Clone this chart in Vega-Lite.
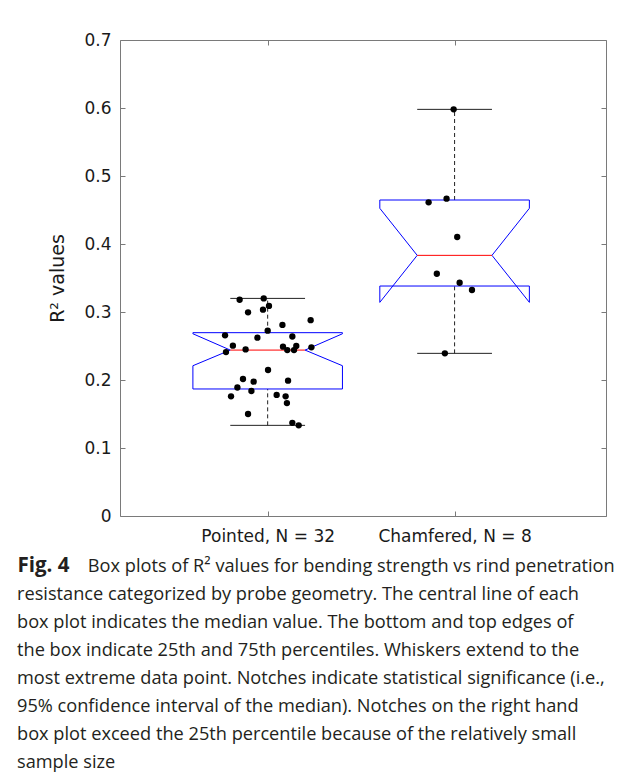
{
  "$schema": "https://vega.github.io/schema/vega-lite/v6.json",
  "width": 486,
  "height": 476,
  "autosize": {"type": "none"},
  "padding": {"left": 120, "top": 40, "right": 23, "bottom": 256},
  "background": "white",
  "config": {
    "view": {"stroke": "#7a7a7a", "strokeWidth": 1},
    "axis": {"grid": false, "domain": false, "tickColor": "#7a7a7a", "tickSize": -5, "labelColor": "#1a1a1a", "labelFont": "DejaVu Sans", "labelFontSize": 17, "titleColor": "#1a1a1a", "titleFont": "DejaVu Sans", "titleFontSize": 19, "titleFontWeight": "normal"}
  },
  "datasets": {
    "pts": [
      {"group": "Pointed", "x": 0.850, "r2": 0.318},
      {"group": "Pointed", "x": 0.979, "r2": 0.320},
      {"group": "Pointed", "x": 1.007, "r2": 0.309},
      {"group": "Pointed", "x": 0.895, "r2": 0.2995},
      {"group": "Pointed", "x": 0.975, "r2": 0.3034},
      {"group": "Pointed", "x": 1.230, "r2": 0.288},
      {"group": "Pointed", "x": 1.079, "r2": 0.281},
      {"group": "Pointed", "x": 1.000, "r2": 0.2725},
      {"group": "Pointed", "x": 0.772, "r2": 0.2657},
      {"group": "Pointed", "x": 1.132, "r2": 0.264},
      {"group": "Pointed", "x": 0.945, "r2": 0.2622},
      {"group": "Pointed", "x": 0.814, "r2": 0.2505},
      {"group": "Pointed", "x": 0.777, "r2": 0.241},
      {"group": "Pointed", "x": 0.882, "r2": 0.245},
      {"group": "Pointed", "x": 1.082, "r2": 0.249},
      {"group": "Pointed", "x": 1.105, "r2": 0.244},
      {"group": "Pointed", "x": 1.153, "r2": 0.250},
      {"group": "Pointed", "x": 1.141, "r2": 0.244},
      {"group": "Pointed", "x": 1.234, "r2": 0.248},
      {"group": "Pointed", "x": 1.002, "r2": 0.2147},
      {"group": "Pointed", "x": 0.868, "r2": 0.2015},
      {"group": "Pointed", "x": 0.925, "r2": 0.1975},
      {"group": "Pointed", "x": 1.109, "r2": 0.199},
      {"group": "Pointed", "x": 0.838, "r2": 0.189},
      {"group": "Pointed", "x": 0.913, "r2": 0.1838},
      {"group": "Pointed", "x": 0.804, "r2": 0.176},
      {"group": "Pointed", "x": 1.048, "r2": 0.178},
      {"group": "Pointed", "x": 1.096, "r2": 0.176},
      {"group": "Pointed", "x": 1.103, "r2": 0.166},
      {"group": "Pointed", "x": 0.895, "r2": 0.150},
      {"group": "Pointed", "x": 1.132, "r2": 0.137},
      {"group": "Pointed", "x": 1.166, "r2": 0.1333},
      {"group": "Chamfered", "x": 1.995, "r2": 0.598},
      {"group": "Chamfered", "x": 1.957, "r2": 0.4667},
      {"group": "Chamfered", "x": 1.861, "r2": 0.4613},
      {"group": "Chamfered", "x": 2.014, "r2": 0.4103},
      {"group": "Chamfered", "x": 1.905, "r2": 0.3563},
      {"group": "Chamfered", "x": 2.027, "r2": 0.343},
      {"group": "Chamfered", "x": 2.093, "r2": 0.3324},
      {"group": "Chamfered", "x": 1.948, "r2": 0.2392}
    ],
    "stats": [
      {"group": "Pointed", "cx": 1, "q1": 0.1868, "q3": 0.2696, "med": 0.244, "nlo": 0.221, "nhi": 0.268, "wlo": 0.1333, "whi": 0.320},
      {"group": "Chamfered", "cx": 2, "q1": 0.3382, "q3": 0.4647, "med": 0.3833, "nlo": 0.3142, "nhi": 0.4525, "wlo": 0.2392, "whi": 0.598}
    ]
  },
  "title": {
    "text": [
      "\u200b\u00a0\u00a0\u00a0\u00a0\u00a0\u00a0\u00a0\u00a0\u00a0\u00a0\u00a0\u00a0\u00a0\u00a0\u00a0Box plots of R² values for bending strength vs rind penetration",
      "resistance categorized by probe geometry. The central line of each",
      "box plot indicates the median value. The bottom and top edges of",
      "the box indicate 25th and 75th percentiles. Whiskers extend to the",
      "most extreme data point. Notches indicate statistical significance (i.e.,",
      "95% confidence interval of the median). Notches on the right hand",
      "box plot exceed the 25th percentile because of the relatively small",
      "sample size"
    ],
    "orient": "bottom",
    "anchor": "start",
    "frame": "group",
    "dx": -103,
    "offset": -4,
    "font": "Open Sans",
    "fontSize": 18.2,
    "fontWeight": "normal",
    "lineHeight": 28,
    "color": "#231f20",
    "baseline": "alphabetic"
  },
  "resolve": {"axis": {"x": "independent", "y": "independent"}},
  "layer": [
    {
      "layer": [
        {
          "data": {"name": "stats"},
          "mark": {"type": "rule", "color": "#222222", "strokeDash": [4, 3], "strokeWidth": 1},
          "encoding": {
            "x": {"field": "cx", "type": "quantitative", "scale": {"domain": [0.21, 2.81], "nice": false, "zero": false},
              "axis": {"orient": "bottom", "values": [1, 2], "labelExpr": "datum.value == 1 ? 'Pointed, N = 32' : 'Chamfered, N = 8'", "labelPadding": 17, "labelFontSize": 17,
                "title": "Fig. 4", "titleFont": "Open Sans", "titleFontWeight": "bold", "titleFontSize": 20.5, "titleColor": "#231f20", "titleX": -103, "titleY": 55, "titleAlign": "left", "titleAnchor": null, "titleBaseline": "alphabetic"}},
            "y": {"field": "q3", "type": "quantitative", "scale": {"domain": [0, 0.7], "nice": false},
              "axis": {"orient": "left", "values": [0, 0.1, 0.2, 0.3, 0.4, 0.5, 0.6, 0.7], "labelExpr": "datum.value == 0 ? '0' : format(datum.value, '.1f')", "labelPadding": 14, "title": "R² values", "titlePadding": 16}},
            "y2": {"field": "whi"}
          }
        },
        {
          "data": {"name": "stats"},
          "mark": {"type": "rule", "color": "#222222", "strokeDash": [4, 3], "strokeWidth": 1},
          "encoding": {
            "x": {"field": "cx", "type": "quantitative"},
            "y": {"field": "wlo", "type": "quantitative"},
            "y2": {"field": "q1"}
          }
        },
        {
          "data": {"name": "stats"},
          "transform": [
            {"fold": ["wlo", "whi"], "as": ["k", "v"]},
            {"calculate": "datum.cx - 0.2", "as": "xa"},
            {"calculate": "datum.cx + 0.2", "as": "xb"}
          ],
          "mark": {"type": "rule", "color": "#222222", "strokeWidth": 1},
          "encoding": {
            "x": {"field": "xa", "type": "quantitative"},
            "x2": {"field": "xb"},
            "y": {"field": "v", "type": "quantitative"}
          }
        },
        {
          "data": {"name": "stats"},
          "transform": [
            {"fold": ["q1", "q3"], "as": ["k", "v"]},
            {"calculate": "datum.cx - 0.4", "as": "xa"},
            {"calculate": "datum.cx + 0.4", "as": "xb"}
          ],
          "mark": {"type": "rule", "color": "#0000ff", "strokeWidth": 1},
          "encoding": {
            "x": {"field": "xa", "type": "quantitative"},
            "x2": {"field": "xb"},
            "y": {"field": "v", "type": "quantitative"}
          }
        },
        {
          "data": {"name": "stats"},
          "transform": [
            {"calculate": "datum.cx - 0.4", "as": "xl"},
            {"calculate": "datum.cx + 0.4", "as": "xr"},
            {"fold": ["xl", "xr"], "as": ["side", "xs"]}
          ],
          "mark": {"type": "rule", "color": "#0000ff", "strokeWidth": 1},
          "encoding": {
            "x": {"field": "xs", "type": "quantitative"},
            "y": {"field": "q3", "type": "quantitative"},
            "y2": {"field": "nhi"}
          }
        },
        {
          "data": {"name": "stats"},
          "transform": [
            {"calculate": "datum.cx - 0.4", "as": "xl"},
            {"calculate": "datum.cx + 0.4", "as": "xr"},
            {"fold": ["xl", "xr"], "as": ["side", "xs"]}
          ],
          "mark": {"type": "rule", "color": "#0000ff", "strokeWidth": 1},
          "encoding": {
            "x": {"field": "xs", "type": "quantitative"},
            "y": {"field": "nlo", "type": "quantitative"},
            "y2": {"field": "q1"}
          }
        },
        {
          "data": {"name": "stats"},
          "transform": [
            {"calculate": "datum.cx - 0.4", "as": "xl"},
            {"calculate": "datum.cx + 0.4", "as": "xr"},
            {"fold": ["xl", "xr"], "as": ["side", "xs"]},
            {"calculate": "datum.side == 'xl' ? datum.cx - 0.2 : datum.cx + 0.2", "as": "xn"}
          ],
          "mark": {"type": "rule", "color": "#0000ff", "strokeWidth": 1},
          "encoding": {
            "x": {"field": "xs", "type": "quantitative"},
            "x2": {"field": "xn"},
            "y": {"field": "nhi", "type": "quantitative"},
            "y2": {"field": "med"}
          }
        },
        {
          "data": {"name": "stats"},
          "transform": [
            {"calculate": "datum.cx - 0.4", "as": "xl"},
            {"calculate": "datum.cx + 0.4", "as": "xr"},
            {"fold": ["xl", "xr"], "as": ["side", "xs"]},
            {"calculate": "datum.side == 'xl' ? datum.cx - 0.2 : datum.cx + 0.2", "as": "xn"}
          ],
          "mark": {"type": "rule", "color": "#0000ff", "strokeWidth": 1},
          "encoding": {
            "x": {"field": "xs", "type": "quantitative"},
            "x2": {"field": "xn"},
            "y": {"field": "nlo", "type": "quantitative"},
            "y2": {"field": "med"}
          }
        },
        {
          "data": {"name": "stats"},
          "transform": [
            {"calculate": "datum.cx - 0.2", "as": "xa"},
            {"calculate": "datum.cx + 0.2", "as": "xb"}
          ],
          "mark": {"type": "rule", "color": "#ff0000", "strokeWidth": 1},
          "encoding": {
            "x": {"field": "xa", "type": "quantitative"},
            "x2": {"field": "xb"},
            "y": {"field": "med", "type": "quantitative"}
          }
        }
      ]
    },
    {
      "data": {"name": "pts"},
      "mark": {"type": "circle", "color": "#000000", "opacity": 1, "size": 40},
      "encoding": {
        "x": {"field": "x", "type": "quantitative", "axis": {"orient": "top", "values": [1, 2], "labels": false, "title": null}},
        "y": {"field": "r2", "type": "quantitative", "axis": {"orient": "right", "values": [0, 0.1, 0.2, 0.3, 0.4, 0.5, 0.6, 0.7], "labels": false, "title": null}}
      }
    }
  ]
}
